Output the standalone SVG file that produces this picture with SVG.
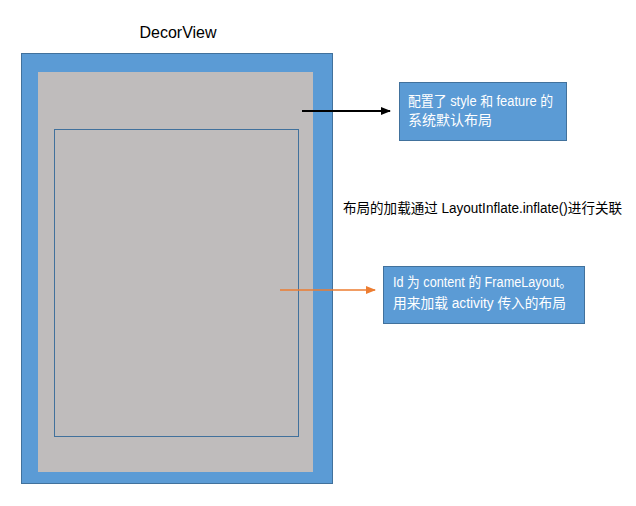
<svg xmlns="http://www.w3.org/2000/svg" width="636" height="506" viewBox="0 0 636 506">
<defs>
<style>
text{font-family:"Liberation Sans","Noto Sans CJK SC",sans-serif;}
.t{font-size:14px;fill:#000;}
.w{font-size:14px;fill:#fff;}
.box{fill:#5b9bd5;stroke:#41719c;stroke-width:1;}
</style>
<marker id="ab" markerWidth="10" markerHeight="8" refX="9" refY="4" orient="auto" markerUnits="userSpaceOnUse"><path d="M0,0L10,4L0,8z" fill="#000"/></marker>
<marker id="ao" markerWidth="10" markerHeight="8" refX="9" refY="4" orient="auto" markerUnits="userSpaceOnUse"><path d="M0,0L10,4L0,8z" fill="#ed7d31"/></marker>
</defs>
<rect width="636" height="506" fill="#fff"/>
<g id="decorview">
<text x="178" y="38" text-anchor="middle" style="font-size:16px">DecorView</text>
<rect class="box" x="21.5" y="53.5" width="311" height="430"/>
</g>
<g id="default-layout">
<rect x="38" y="72" width="275" height="400" fill="#bfbcbc"/>
</g>
<g id="content">
<rect x="54.5" y="129.5" width="244" height="307" fill="none" stroke="#41719c" stroke-width="1"/>
</g>
<g id="connectors">
<line x1="302" y1="111" x2="390" y2="111" stroke="#000" stroke-width="2" marker-end="url(#ab)"/>
<line x1="280" y1="290" x2="375" y2="290" stroke="#ed7d31" stroke-width="1.5" marker-end="url(#ao)"/>
</g>
<g id="note1">
<rect class="box" x="399.5" y="82.5" width="167" height="58"/>
<text class="w" x="408" y="106" textLength="145" lengthAdjust="spacingAndGlyphs">配置了 style 和 feature 的</text>
<text class="w" x="408" y="125">系统默认布局</text>
</g>
<g id="label">
<text class="t" x="343" y="213" textLength="279" lengthAdjust="spacingAndGlyphs">布局的加载通过 LayoutInflate.inflate()进行关联</text>
</g>
<g id="note2">
<rect class="box" x="383.5" y="266.5" width="201" height="57"/>
<text class="w" x="393" y="287" textLength="179" lengthAdjust="spacingAndGlyphs">Id 为 content 的 FrameLayout。</text>
<text class="w" x="393" y="308" textLength="173" lengthAdjust="spacingAndGlyphs">用来加载 activity 传入的布局</text>
</g>
</svg>
